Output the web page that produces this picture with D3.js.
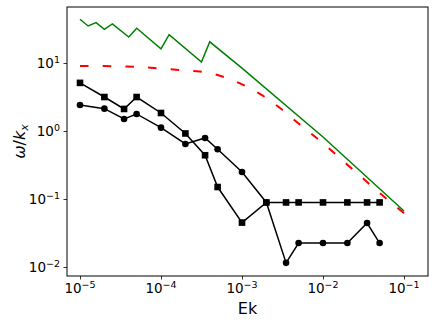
<!DOCTYPE html>
<html>
<head>
<meta charset="utf-8">
<script src="https://cdn.jsdelivr.net/npm/d3@7"></script>
<style>
body { margin: 0; background: #fff; }
text { font-family: "DejaVu Sans", sans-serif; fill: #000; }
</style>
</head>
<body>
<script>
// Ek values shared by the two marker series
const ekMarks = [1e-5, 2e-5, 3.5e-5, 5e-5, 1e-4, 2e-4, 3.5e-4, 5e-4, 1e-3, 2e-3, 3.5e-3, 5e-3, 1e-2, 2e-2, 3.5e-2, 5e-2];
const squares = [5.1, 3.16, 2.11, 3.16, 1.84, 0.92, 0.44, 0.15, 0.045, 0.089, 0.089, 0.089, 0.089, 0.089, 0.089, 0.089];
const circles = [2.41, 2.13, 1.5, 1.78, 1.12, 0.644, 0.79, 0.54, 0.25, 0.089, 0.0115, 0.0225, 0.0225, 0.0225, 0.0443, 0.0225];

// green sawtooth curve
const ekGreen = [1e-5, 1.26e-5, 1.58e-5, 2e-5, 2.51e-5, 4e-5, 5.01e-5, 1e-4, 1.26e-4, 3.16e-4, 4e-4, 1e-3, 1e-2, 1e-1];
const green = [44, 35, 39.2, 31.3, 37.5, 24.1, 32.4, 16.2, 26.1, 10.3, 20.5, 8.4, 0.817, 0.0667];

// red dashed curve
const ekRed = [1e-5, 2e-5, 5e-5, 1e-4, 2e-4, 3e-4, 5e-4, 1e-3, 2e-3, 3e-3, 5e-3, 1e-2, 2e-2, 5e-2, 1e-1];
const red = [9.0, 9.0, 8.75, 8.3, 7.75, 7.5, 6.65, 4.85, 3.06, 2.14, 1.29, 0.66, 0.32, 0.123, 0.062];

// tick labels (exponents of ten)
const xExp = [-5, -4, -3, -2, -1];
const yExp = [-2, -1, 0, 1];

const margin = {top: 7, bottom: 48, left: 67, right: 8};
const width = 436 - margin.left - margin.right;
const height = 324 - margin.top - margin.bottom;

const svg = d3.select('body').append('svg')
  .attr('width', 436)
  .attr('height', 324);

const g = svg.append('g')
  .attr('transform', `translate(${margin.left},${margin.top})`);

const x = d3.scaleLog().domain([10 ** -5.1605, 10 ** -0.7037]).range([0, width]);
const y = d3.scaleLog().domain([10 ** -2.1324, 10 ** 1.8235]).range([height, 0]);

// minor ticks 2..9 per decade inside the domain
function minors(scale) {
  const [a, b] = scale.domain();
  const out = [];
  for (let e = -7; e <= 3; e++) {
    for (let m = 2; m <= 9; m++) {
      const v = m * 10 ** e;
      if (v >= a && v <= b) out.push(v);
    }
  }
  return out;
}

const minus = (e) => (e < 0 ? '\u2212' + (-e) : String(e));

// x axis
const gx = g.append('g').attr('transform', `translate(0,${height})`);
gx.call(d3.axisBottom(x).tickValues(minors(x)).tickSize(2).tickFormat(''));
gx.call(d3.axisBottom(x).tickValues(xExp.map((e) => 10 ** e)).tickSize(3.5).tickFormat(''));
gx.selectAll('.domain').remove();
gx.selectAll('line').attr('stroke', '#000').attr('stroke-width', 0.8);

xExp.forEach((e) => {
  const t = gx.append('text')
    .attr('x', x(10 ** e))
    .attr('y', 17)
    .attr('text-anchor', 'middle')
    .style('font-size', '13.5px');
  t.append('tspan').text('10');
  t.append('tspan').attr('dy', -5).style('font-size', '9.5px').text(minus(e));
});

// y axis
const gy = g.append('g');
gy.call(d3.axisLeft(y).tickValues(minors(y)).tickSize(2).tickFormat(''));
gy.call(d3.axisLeft(y).tickValues(yExp.map((e) => 10 ** e)).tickSize(3.5).tickFormat(''));
gy.selectAll('.domain').remove();
gy.selectAll('line').attr('stroke', '#000').attr('stroke-width', 0.8);

yExp.forEach((e) => {
  const lbl = minus(e);
  const t = gy.append('text')
    .attr('x', -7)
    .attr('y', y(10 ** e) + 5)
    .attr('text-anchor', 'end')
    .style('font-size', '13.5px');
  t.append('tspan').text('10');
  t.append('tspan').attr('dy', -5).style('font-size', '9.5px').text(lbl);
});

// axis labels
g.append('text')
  .attr('x', width / 2)
  .attr('y', height + 37.5)
  .attr('text-anchor', 'middle')
  .style('font-size', '16px')
  .text('Ek');

const yl = g.append('text')
  .attr('transform', `translate(${-42},${height / 2}) rotate(-90)`)
  .attr('text-anchor', 'middle')
  .style('font-size', '16px');
yl.append('tspan').style('font-style', 'italic').text('\u03c9');
yl.append('tspan').text('/');
yl.append('tspan').style('font-style', 'italic').text('k');
yl.append('tspan').attr('dy', 3).style('font-style', 'italic').style('font-size', '11px').text('x');

// lines
const line = d3.line().x((d) => x(d[0])).y((d) => y(d[1]));

g.append('path')
  .datum(d3.zip(ekGreen, green))
  .attr('d', line)
  .attr('fill', 'none')
  .attr('stroke', '#008000')
  .attr('stroke-width', 1.5);

g.append('path')
  .datum(d3.zip(ekRed, red))
  .attr('d', line.curve(d3.curveMonotoneX))
  .attr('fill', 'none')
  .attr('stroke', '#ff0000')
  .attr('stroke-width', 2)
  .attr('stroke-dasharray', '8.5,14.2');

line.curve(d3.curveLinear);

g.append('path')
  .datum(d3.zip(ekMarks, circles))
  .attr('d', line)
  .attr('fill', 'none')
  .attr('stroke', '#000')
  .attr('stroke-width', 1.5);

g.selectAll('circle.pt').data(d3.zip(ekMarks, circles)).join('circle')
  .attr('class', 'pt')
  .attr('cx', (d) => x(d[0]))
  .attr('cy', (d) => y(d[1]))
  .attr('r', 3.3)
  .attr('fill', '#000');

g.append('path')
  .datum(d3.zip(ekMarks, squares))
  .attr('d', line)
  .attr('fill', 'none')
  .attr('stroke', '#000')
  .attr('stroke-width', 1.5);

const sq = 6.6;
g.selectAll('rect.pt').data(d3.zip(ekMarks, squares)).join('rect')
  .attr('class', 'pt')
  .attr('x', (d) => x(d[0]) - sq / 2)
  .attr('y', (d) => y(d[1]) - sq / 2)
  .attr('width', sq)
  .attr('height', sq)
  .attr('fill', '#000');

// frame
g.append('rect')
  .attr('width', width)
  .attr('height', height)
  .attr('fill', 'none')
  .attr('stroke', '#000')
  .attr('stroke-width', 1);
</script>
</body>
</html>
